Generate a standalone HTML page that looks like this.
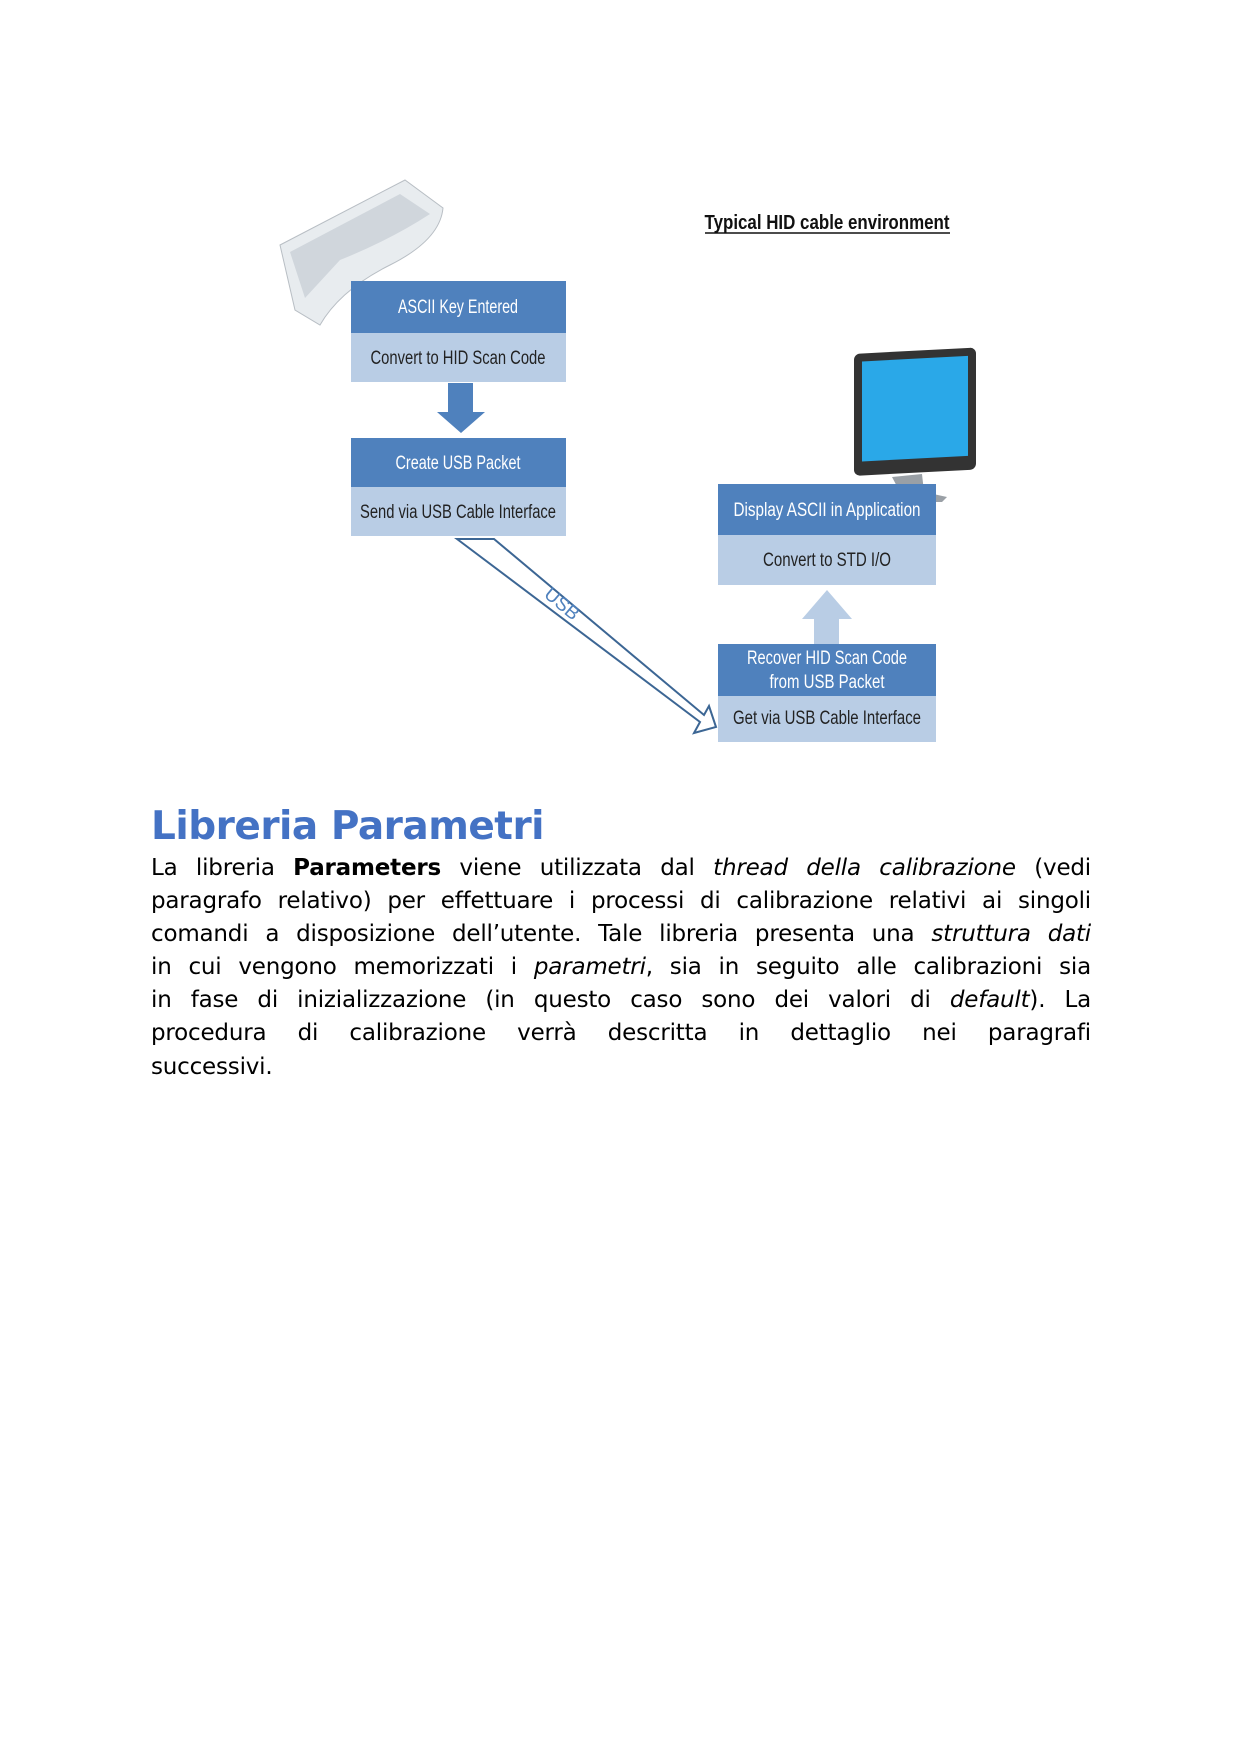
<!DOCTYPE html>
<html><head><meta charset="utf-8"><style>
body{margin:0;background:#fff;width:1241px;height:1755px;position:relative;overflow:hidden}
svg{position:absolute;left:0;top:0}
h1{position:absolute;left:151px;top:804px;margin:0;font:bold 39px "DejaVu Sans",sans-serif;color:#4472c4;letter-spacing:-0.5px}
.p{position:absolute;left:151px;top:852px;width:940px;font:23px/33.1px "DejaVu Sans",sans-serif;color:#000;letter-spacing:-0.2px}
.p div{text-align:justify;text-align-last:justify;white-space:nowrap}
.p div.l{text-align-last:left}
</style></head><body>
<svg width="1241" height="1755" font-family="Liberation Sans Narrow, Liberation Sans, sans-serif">
<text x="827" y="229" font-size="20" text-anchor="middle" font-weight="bold" fill="#111" textLength="245" lengthAdjust="spacingAndGlyphs">Typical HID cable environment</text>
<line x1="705" y1="233" x2="950" y2="233" stroke="#111" stroke-width="1.5"/>
<g transform="translate(280,180)">
<path d="M0,65 L125,0 L163,28 Q160,60 110,85 Q60,110 40,145 L15,130 Z" fill="#e8ecef" stroke="#b8bec4"/>
<path d="M10,72 L120,14 L150,34 Q110,60 60,80 L25,118 Z" fill="#d0d6dc"/>
</g>
<g transform="translate(852,352)">
<rect x="2" y="2" width="122" height="122" rx="6" fill="#333" transform="skewY(-3)"/>
<rect x="10" y="10" width="106" height="100" fill="#2aa8e8" transform="skewY(-3)"/>
<path d="M40,125 L70,122 L72,140 L95,145 L90,150 L30,150 L28,145 L48,140 Z" fill="#9aa0a6"/>
</g>
<g font-size="19" text-anchor="middle">
<rect x="351" y="281" width="215" height="52" fill="#4f81bd"/>
<rect x="351" y="333" width="215" height="49" fill="#b9cde5"/>
<text x="458" y="313" fill="#fff" textLength="120" lengthAdjust="spacingAndGlyphs">ASCII Key Entered</text>
<text x="458" y="364" fill="#222" textLength="175" lengthAdjust="spacingAndGlyphs">Convert to HID Scan Code</text>
<rect x="351" y="438" width="215" height="49" fill="#4f81bd"/>
<rect x="351" y="487" width="215" height="49" fill="#b9cde5"/>
<text x="458" y="469" fill="#fff" textLength="125" lengthAdjust="spacingAndGlyphs">Create USB Packet</text>
<text x="458" y="518" fill="#222" textLength="196" lengthAdjust="spacingAndGlyphs">Send via USB Cable Interface</text>
<rect x="718" y="484" width="218" height="51" fill="#4f81bd"/>
<rect x="718" y="535" width="218" height="50" fill="#b9cde5"/>
<text x="827" y="516" fill="#fff" textLength="187" lengthAdjust="spacingAndGlyphs">Display ASCII in Application</text>
<text x="827" y="566" fill="#222" textLength="128" lengthAdjust="spacingAndGlyphs">Convert to STD I/O</text>
<rect x="718" y="644" width="218" height="52" fill="#4f81bd"/>
<rect x="718" y="696" width="218" height="46" fill="#b9cde5"/>
<text x="827" y="664" fill="#fff" textLength="160" lengthAdjust="spacingAndGlyphs">Recover HID Scan Code</text>
<text x="827" y="688" fill="#fff" textLength="115" lengthAdjust="spacingAndGlyphs">from USB Packet</text>
<text x="827" y="724" fill="#222" textLength="188" lengthAdjust="spacingAndGlyphs">Get via USB Cable Interface</text>
</g>
<polygon points="448,383 473,383 473,412 485,412 461,433 437,412 448,412" fill="#4f81bd"/>
<polygon points="814,644 839,644 839,619 852,619 827,590 802,619 814,619" fill="#b9cde5"/>
<polygon points="457,539 700,722 694,733 716,727 709,706 704,715 494,539" fill="none" stroke="#3c6694" stroke-width="2"/>
<text x="0" y="0" font-size="19" fill="#4f81bd" transform="translate(543,596) rotate(40)">USB</text>
</svg>
<h1>Libreria Parametri</h1>
<div class="p">
<div>La libreria <b>Parameters</b> viene utilizzata dal <i>thread della calibrazione</i> (vedi</div>
<div>paragrafo relativo) per effettuare i processi di calibrazione relativi ai singoli</div>
<div>comandi a disposizione dell’utente. Tale libreria presenta una <i>struttura dati</i></div>
<div>in cui vengono memorizzati i <i>parametri</i>, sia in seguito alle calibrazioni sia</div>
<div>in fase di inizializzazione (in questo caso sono dei valori di <i>default</i>). La</div>
<div>procedura di calibrazione verrà descritta in dettaglio nei paragrafi</div>
<div class="l">successivi.</div>
</div>
</body></html>
